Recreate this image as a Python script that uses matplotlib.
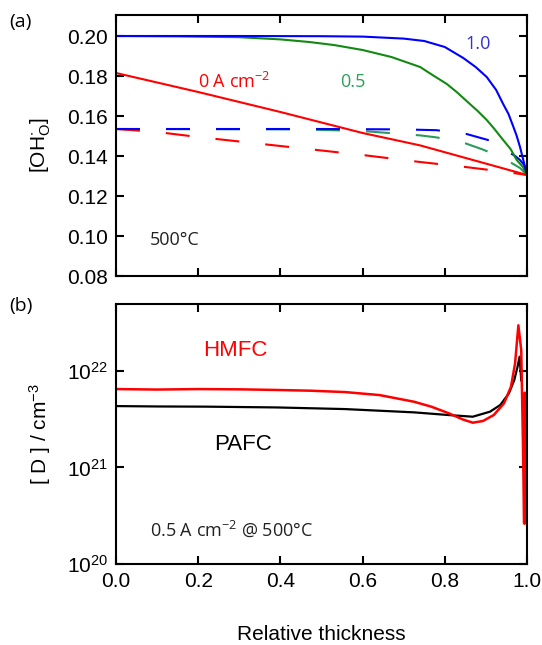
import matplotlib
matplotlib.use("Agg")
import matplotlib.pyplot as plt
import numpy as np

plt.rcParams['font.family'] = ['Liberation Sans', 'DejaVu Sans']
plt.rcParams['mathtext.fontset'] = 'custom'
plt.rcParams['mathtext.rm'] = 'Liberation Sans'
plt.rcParams['mathtext.it'] = 'Liberation Sans:italic'
plt.rcParams['mathtext.bf'] = 'Liberation Sans:bold'

# ---------------- Panel (a) data ----------------
x_blue_solid = [0.0, 0.3, 0.5, 0.6, 0.7, 0.75, 0.8, 0.845, 0.875, 0.902, 0.925, 0.942,
                0.955, 0.967, 0.975, 0.983, 0.991, 1.0]
y_blue_solid = [0.200, 0.200, 0.1999, 0.1997, 0.1987, 0.1975, 0.1945, 0.189, 0.1845, 0.1795, 0.173, 0.166,
                0.161, 0.1545, 0.150, 0.1445, 0.138, 0.1305]

x_green_solid = [0.0, 0.15, 0.3, 0.4, 0.47, 0.53, 0.6, 0.67, 0.74, 0.77, 0.805, 0.83, 0.861,
                 0.88, 0.902, 0.92, 0.942, 0.96, 0.975, 0.99, 1.0]
y_green_solid = [0.200, 0.1998, 0.1994, 0.1983, 0.197, 0.1955, 0.193, 0.1895, 0.1845, 0.1805, 0.176,
                 0.1718, 0.166, 0.1625, 0.158, 0.1537, 0.148, 0.1435, 0.138, 0.1345, 0.1305]

x_red_solid = [0.0, 0.2, 0.4, 0.6, 0.74, 0.9, 1.0]
y_red_solid = [0.1815, 0.172, 0.162, 0.1515, 0.1453, 0.1362, 0.1305]

x_blue_dash = [0.0, 0.5, 0.7, 0.78, 0.853, 0.905, 0.93, 0.954, 0.97, 0.983, 0.993, 1.0]
y_blue_dash = [0.1535, 0.1535, 0.1533, 0.1529, 0.151, 0.148, 0.1455, 0.142, 0.1402, 0.138, 0.1355, 0.1305]

x_green_dash = [0.0, 0.45, 0.6, 0.74, 0.78, 0.841, 0.893, 0.942, 0.983, 1.0]
y_green_dash = [0.1535, 0.1533, 0.1525, 0.1503, 0.1493, 0.147, 0.1432, 0.139, 0.134, 0.1305]

x_red_dash = [0.0, 0.1, 0.2, 0.4, 0.6, 0.74, 0.85, 0.95, 1.0]
y_red_dash = [0.1535, 0.152, 0.1495, 0.145, 0.1405, 0.137, 0.1345, 0.132, 0.1305]

# ---------------- Panel (b) data (log10 of concentration) ----------------
x_hmfc = [0.0, 0.1, 0.2, 0.306, 0.4, 0.474, 0.557, 0.641, 0.725, 0.767, 0.81, 0.843,
          0.868, 0.893, 0.919, 0.944, 0.961, 0.971, 0.979, 0.986, 0.990, 0.993, 0.994, 0.995, 0.996]
log_hmfc = [21.81, 21.805, 21.81, 21.807, 21.80, 21.793, 21.779, 21.748, 21.679, 21.628, 21.559, 21.497,
            21.462, 21.48, 21.541, 21.662, 21.834, 22.076, 22.47, 22.21, 21.28, 20.42, 21.77, 20.42, 21.77]

x_pafc = [0.0, 0.1, 0.22, 0.39, 0.557, 0.641, 0.725, 0.81, 0.868, 0.91, 0.935, 0.956,
          0.969, 0.977, 0.982, 0.986]
log_pafc = [21.634, 21.63, 21.628, 21.62, 21.603, 21.586, 21.569, 21.541, 21.524, 21.576, 21.645, 21.766,
            21.903, 22.041, 22.145, 21.9]
y_hmfc = [10 ** v for v in log_hmfc]
y_pafc = [10 ** v for v in log_pafc]

x_ticks = [0.0, 0.2, 0.4, 0.6, 0.8, 1.0]
x_ticklabels = ['0.0', '0.2', '0.4', '0.6', '0.8', '1.0']
ya_ticks = [0.08, 0.10, 0.12, 0.14, 0.16, 0.18, 0.20]
ya_ticklabels = ['0.08', '0.10', '0.12', '0.14', '0.16', '0.18', '0.20']
yb_ticks = [1e20, 1e21, 1e22]

BLUE = '#0000ff'
GREEN = '#128a12'
GREEN_D = '#2a9a5a'
RED = '#ff0000'

fig = plt.figure(figsize=(5.42, 6.45), dpi=100)
W, H = 542, 645
ax1 = fig.add_axes([116 / W, 1 - 276 / H, 411 / W, 261 / H])
ax2 = fig.add_axes([116 / W, 1 - 564 / H, 411 / W, 260 / H])

lw = 1.5
dash = (11.5, 12.5)
ax1.plot(x_red_dash, y_red_dash, color=RED, lw=lw, dashes=dash)
ax1.plot(x_green_dash, y_green_dash, color=GREEN_D, lw=lw, dashes=dash)
ax1.plot(x_blue_dash, y_blue_dash, color=BLUE, lw=lw, dashes=dash)
ax1.plot(x_red_solid, y_red_solid, color=RED, lw=lw)
ax1.plot(x_green_solid, y_green_solid, color=GREEN, lw=lw)
ax1.plot(x_blue_solid, y_blue_solid, color=BLUE, lw=lw)

ax1.set_xlim(0, 1)
ax1.set_ylim(0.08, 0.2105)
ax1.set_xticks(x_ticks)
ax1.set_xticklabels([])
ax1.set_yticks(ya_ticks)
ax1.set_yticklabels(ya_ticklabels)
ax1.set_ylabel(r'[OH$_\mathrm{O}^{\bullet}$]', fontsize=15, labelpad=10)

tfont = ['Open Sans', 'DejaVu Sans']
ax1.text(0.2, 0.177, r'0 A cm$\mathdefault{^{-2}}$', color=RED, fontsize=13, family=tfont, va='center', ha='left')
ax1.text(0.545, 0.177, '0.5', color='#2ca05a', fontsize=13, family=tfont, va='center', ha='left')
ax1.text(0.85, 0.196, '1.0', color='#3333cc', fontsize=13, family=tfont, va='center', ha='left')
ax1.text(0.083, 0.098, '500°C', color='#222222', fontsize=13, family=tfont, va='center', ha='left')

ax2.plot(x_pafc, y_pafc, color='black', lw=1.6)
ax2.plot(x_hmfc, y_hmfc, color=RED, lw=1.8)
ax2.set_yscale('log')
ax2.set_xlim(0, 1)
ax2.set_ylim(1e20, 4.9e22)
ax2.set_xticks(x_ticks)
ax2.set_xticklabels(x_ticklabels)
ax2.set_yticks(yb_ticks)
ax2.yaxis.set_minor_locator(matplotlib.ticker.NullLocator())
ax2.set_ylabel(r'[ D ] / cm$^{-3}$', fontsize=15, labelpad=10)
ax2.set_xlabel('Relative thickness', fontsize=15, labelpad=24)

ax2.text(0.212, 10 ** 22.214, 'HMFC', color=RED, fontsize=16, va='center', ha='left')
ax2.text(0.238, 10 ** 21.232, 'PAFC', color='black', fontsize=16, va='center', ha='left')
ax2.text(0.083, 10 ** 20.36, r'0.5 A cm$\mathdefault{^{-2}}$ @ 500°C', color='#222222', fontsize=13,
         family=tfont, va='center', ha='left')

for ax in (ax1, ax2):
    for s in ax.spines.values():
        s.set_linewidth(1.5)
    ax.tick_params(which='both', direction='in', top=True, right=True, length=6, width=1.5,
                   labelsize=15, pad=6)

fig.text(9 / W, 1 - 22 / H, '(a)', fontsize=14, va='center', ha='left', family=tfont)
fig.text(9 / W, 1 - 306 / H, '(b)', fontsize=14, va='center', ha='left', family=tfont)

fig.savefig('out.png', dpi=100)
